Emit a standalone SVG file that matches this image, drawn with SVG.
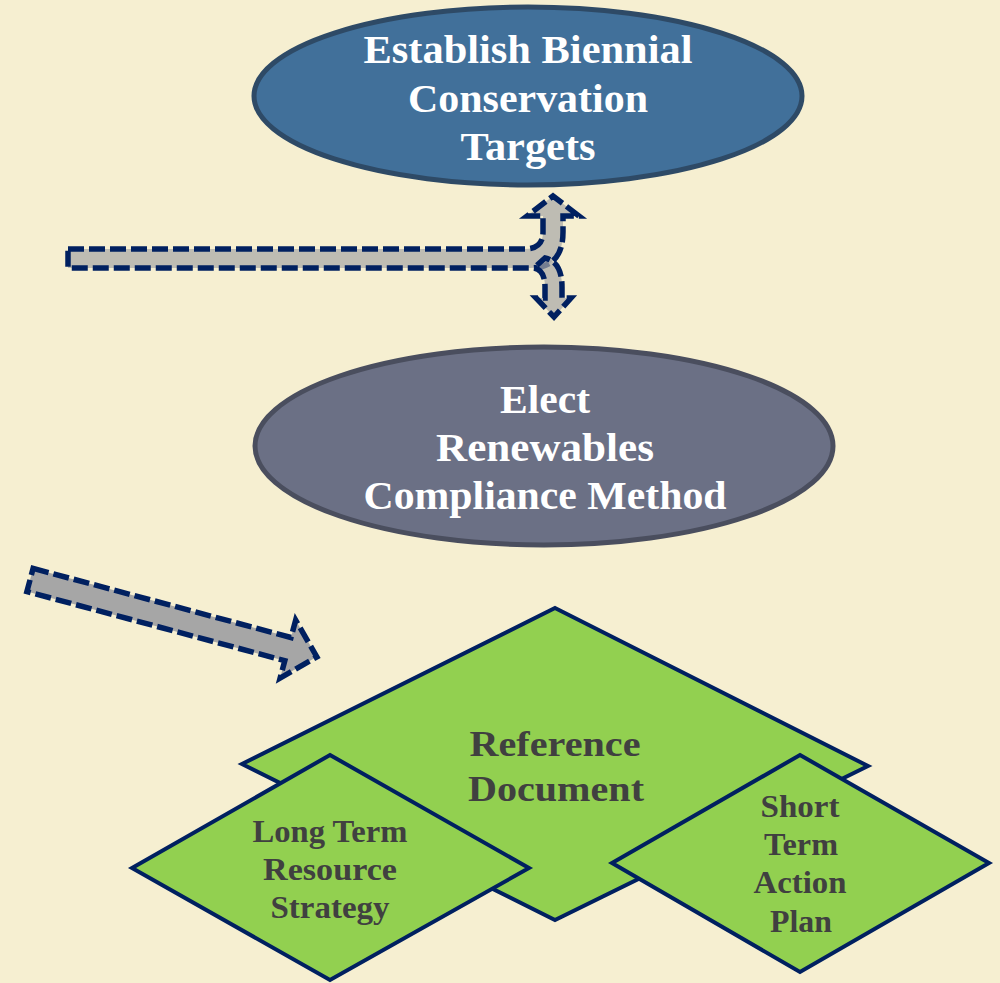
<svg xmlns="http://www.w3.org/2000/svg" width="1000" height="983" viewBox="0 0 1000 983">
<style>
.ell{font-family:"Liberation Serif","DejaVu Serif",serif;font-weight:bold;font-size:39px;fill:#ffffff;text-anchor:middle}
.dia{font-family:"Liberation Serif","DejaVu Serif",serif;font-weight:bold;fill:#404040;text-anchor:middle}
.d{fill:#92d050;stroke:#002060;stroke-width:4;stroke-linejoin:miter}
.arr{fill:#a6a6a6;stroke:#002060;stroke-width:5.5;stroke-dasharray:16 5}
</style>
<rect width="1000" height="983" fill="#f6efd1"/>
<g id="connectors">
  <path class="arr" fill-opacity="0.7" d="M68,249 L525,249 Q543,249 543,232 L543,216 L527,216 L553,196 L579,216 L563,216 L563,232 Q563,268 530,268 L68,268 Z"/>
  <path class="arr" fill-opacity="0.7" d="M534,268 Q545,270 545,287 L545,298 L536,298 L554,317 L571,298 L562,298 L562,287 Q562,262 545,258 Z"/>
  <path class="arr" transform="translate(30,580) rotate(15)" d="M0,-12 L267,-12 L267,-30 L297,0 L267,30 L267,12 L0,12 Z"/>
</g>
<g id="node-targets">
  <ellipse cx="528" cy="96" rx="274" ry="89" fill="#41709a" stroke="#2e4a66" stroke-width="5"/>
  <text class="ell" x="528" y="63" textLength="329" lengthAdjust="spacingAndGlyphs">Establish Biennial</text>
  <text class="ell" x="528" y="112" textLength="240" lengthAdjust="spacingAndGlyphs">Conservation</text>
  <text class="ell" x="528" y="160" textLength="135" lengthAdjust="spacingAndGlyphs">Targets</text>
</g>
<g id="node-renewables">
  <ellipse cx="544" cy="446" rx="289" ry="99" fill="#6b7085" stroke="#4a4e5e" stroke-width="5"/>
  <text class="ell" x="545" y="413" textLength="90" lengthAdjust="spacingAndGlyphs">Elect</text>
  <text class="ell" x="545" y="461" textLength="218" lengthAdjust="spacingAndGlyphs">Renewables</text>
  <text class="ell" x="545" y="509" textLength="363" lengthAdjust="spacingAndGlyphs">Compliance Method</text>
</g>
<g id="node-reference">
  <polygon class="d" points="555,608 868,766 555,920 242,764"/>
  <text class="dia" x="555" y="756" font-size="35" textLength="171" lengthAdjust="spacingAndGlyphs">Reference</text>
  <text class="dia" x="556" y="801" font-size="35" textLength="176" lengthAdjust="spacingAndGlyphs">Document</text>
</g>
<g id="node-longterm">
  <polygon class="d" points="330,755 529,868 330,980 132,868"/>
  <text class="dia" x="330" y="842" font-size="32" textLength="155" lengthAdjust="spacingAndGlyphs">Long Term</text>
  <text class="dia" x="330" y="880" font-size="32" textLength="134" lengthAdjust="spacingAndGlyphs">Resource</text>
  <text class="dia" x="330" y="918" font-size="32" textLength="119" lengthAdjust="spacingAndGlyphs">Strategy</text>
</g>
<g id="node-shortterm">
  <polygon class="d" points="800,755 989,863 800,972 612,863"/>
  <text class="dia" x="800" y="817" font-size="32" textLength="79" lengthAdjust="spacingAndGlyphs">Short</text>
  <text class="dia" x="801" y="855" font-size="32" textLength="74" lengthAdjust="spacingAndGlyphs">Term</text>
  <text class="dia" x="800" y="893" font-size="32" textLength="93" lengthAdjust="spacingAndGlyphs">Action</text>
  <text class="dia" x="801" y="932" font-size="32" textLength="62" lengthAdjust="spacingAndGlyphs">Plan</text>
</g>
</svg>
